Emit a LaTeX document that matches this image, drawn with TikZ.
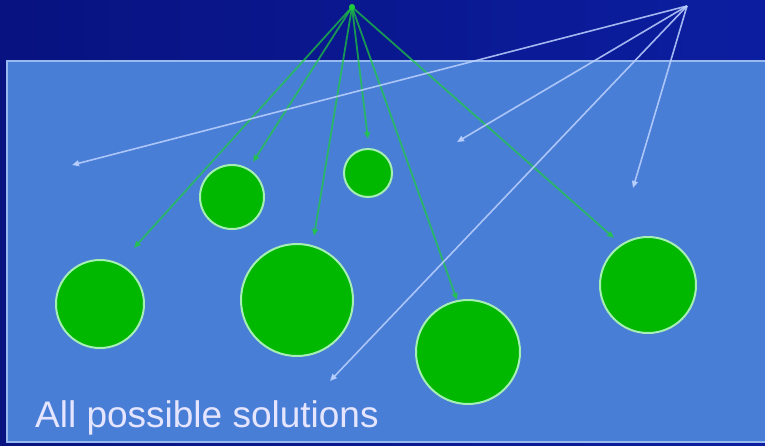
\documentclass[tikz,border=0pt]{standalone}
\usepackage{fontspec}
\setmainfont{Liberation Sans}
\usepackage{xcolor}
\usetikzlibrary{arrows.meta}

\definecolor{navyL}{RGB}{8,18,128}
\definecolor{navyR}{RGB}{12,30,160}
\definecolor{spaceblue}{RGB}{72,126,214}
\definecolor{spaceedge}{RGB}{150,185,240}
\definecolor{solgreen}{RGB}{0,184,0}
\definecolor{soledge}{RGB}{165,238,180}
\definecolor{ptrgreen}{RGB}{30,205,60}
\definecolor{ptrlight}{RGB}{190,210,255}

\begin{document}
\begin{tikzpicture}[x=1pt, y=-1pt]
        % Style definitions
        \tikzset{
            sol/.style={circle, fill=solgreen, draw=soledge, line width=2pt, inner sep=0pt},
            pick/.style={ptrgreen, opacity=0.7, line width=1.8pt, -{Triangle[length=7pt, width=6pt]}},
            miss/.style={ptrlight, opacity=0.85, line width=1.6pt, -{Triangle[length=7pt, width=6pt]}}
        }
        \useasboundingbox (0,0) rectangle (765,445);

        % ==========================================
        % BACKGROUND
        % ==========================================
        \shade[left color=navyL, right color=navyR] (0,0) rectangle (765,445);
        \draw[fill=spaceblue, draw=spaceedge, line width=1.8pt] (7,61) rectangle (770,442);
        \node[anchor=base west, text=white!90!blue, font=\fontsize{37}{42}\selectfont, inner sep=0pt] (label) at (35,427) {All possible solutions};

        % ==========================================
        % SOLUTIONS
        % ==========================================
        \node[sol, minimum size=88pt] (s1) at (100,304) {};
        \node[sol, minimum size=64pt] (s2) at (232,197) {};
        \node[sol, minimum size=48pt] (s3) at (368,173) {};
        \node[sol, minimum size=112pt] (s4) at (297,300) {};
        \node[sol, minimum size=104pt] (s5) at (468,352) {};
        \node[sol, minimum size=96pt] (s6) at (648,285) {};

        % ==========================================
        % POINTERS
        % ==========================================
        \coordinate (good) at (352,7);
        \coordinate (bad) at (687,6);

        \coordinate (g1) at (134,248);
        \coordinate (g2) at (253,162);
        \coordinate (g3) at (368,139);
        \coordinate (g4) at (314,236);
        \coordinate (g5) at (457,300);
        \coordinate (g6) at (614,238);

        \coordinate (b1) at (72,165);
        \coordinate (b2) at (457,142);
        \coordinate (b3) at (633,188);
        \coordinate (b4) at (330,381);

        \foreach \t in {g1,g2,g3,g4,g5,g6}
            \draw[pick] (good) -- (\t);
        \foreach \t in {b1,b2,b3,b4}
            \draw[miss] (bad) -- (\t);
        \fill[ptrgreen] (good) circle (3pt);
    \end{tikzpicture}
\end{document}
